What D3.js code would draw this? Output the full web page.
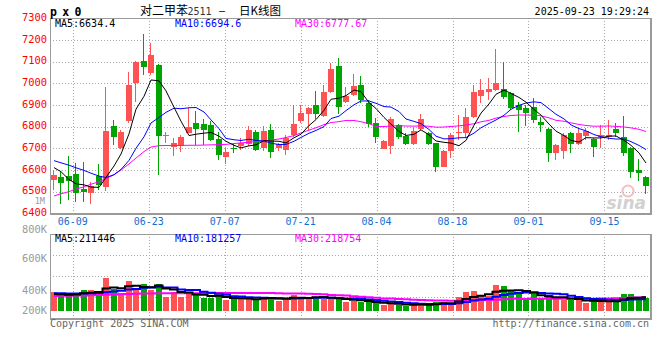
<!DOCTYPE html>
<html><head><meta charset="utf-8">
<script src="https://cdn.jsdelivr.net/npm/d3@7"></script>
<style>
body{margin:0;background:#fff}
svg{display:block}
text{font-family:"DejaVu Sans Mono",monospace}
</style>
</head><body><svg id="c" width="660" height="360"></svg>
<script>
// ---------------- data ----------------
const dates = ["06-04","06-05","06-06","06-09","06-10","06-11","06-12","06-13","06-16","06-17","06-18","06-19","06-20","06-23","06-24","06-25","06-26","06-27","06-30",
"07-01","07-02","07-03","07-04","07-07","07-08","07-09","07-10","07-11","07-14","07-15","07-16","07-17","07-18","07-21","07-22","07-23","07-24","07-25","07-28","07-29","07-30","07-31",
"08-01","08-04","08-05","08-06","08-07","08-08","08-11","08-12","08-13","08-14","08-15","08-18","08-19","08-20","08-21","08-22","08-25","08-26","08-27","08-28","08-29",
"09-01","09-02","09-03","09-04","09-05","09-08","09-09","09-10","09-11","09-12","09-15","09-16","09-17","09-18","09-19","09-22","09-23"];
const open = [6554,6566,6572,6582,6512,6492,6572,6523,6803,6700, 6828,7000,7103,7049,7085,6755,6708,6711,6772,6815,
 6812,6808,6743,6662,6703,6711,6718,6777,6700,6785, 6700,6692,6762,6828,6858,6900,6849,6961,7080,6915,
 6946,6992,6908,6815,6697,6711,6808,6757,6720,6788, 6769,6723,6615,6689,6769,6769,6846,6942,6961,6969,
 6972,6957,6900,6885,6892,6823,6788,6680,6689,6769, 6720,6757,6742,6754,6751,6788,6754,6700,6600,6569];
const high = [6600,6592,6665,6631,6639,6546,6626,6982,6831,6785, 7054,7105,7228,7185,7090,6777,6746,6762,6885,6874,
 6834,6828,6777,6700,6726,6746,6803,6785,6803,6812, 6723,6762,6900,6900,6889,6966,6992,7092,7115,6985,
 7043,7034,6923,6838,6738,6846,6810,6769,6797,6858, 6777,6726,6692,6769,6854,6885,6992,7018,7023,7158,
 7100,6960,6915,6900,6931,6846,6792,6718,6769,6777, 6792,6792,6746,6808,6831,6815,6849,6708,6649,6572];
const low = [6508,6442,6462,6454,6454,6442,6508,6505,6715,6697, 6815,6915,7038,7038,6577,6723,6665,6685,6769,6715,
 6715,6735,6646,6626,6677,6692,6711,6689,6689,6654, 6689,6669,6754,6815,6785,6834,6846,6957,6858,6911,
 6942,6908,6800,6726,6695,6674,6742,6715,6715,6785, 6715,6592,6612,6654,6738,6746,6838,6911,6923,6966,
 6926,6877,6777,6803,6815,6777,6638,6646,6649,6680, 6715,6738,6661,6703,6738,6751,6665,6562,6551,6489];
const close = [6577,6539,6549,6492,6500,6526,6531,6780,6754,6777, 6992,7100,7077,7131,6757,6760,6723,6754,6800,6788,
 6785,6738,6669,6682,6695,6726,6785,6692,6780,6685, 6720,6746,6812,6862,6885,6858,6961,7065,6889,6942,
 6988,6923,6812,6754,6735,6834,6754,6720,6780,6837, 6720,6612,6689,6762,6777,6843,6961,6969,6974,7000,
 6938,6885,6877,6865,6831,6808,6677,6715,6762,6720, 6769,6780,6708,6762,6762,6772,6680,6592,6588,6528];
// volume in thousands of lots
const volumeK = [297,246,246,262,323,323,308,513,339,272, 467,349,416,323,416,220,288,220,272,262,
 205,205,236,169,185,185,185,185,221,221, 154,169,246,221,205,221,185,185,195,144,
 154,144,133,118,92,118,92,77,108,77, 118,144,144,108,221,298,313,231,231,400,
 385,323,262,169,262,195,246,180,169,169, 169,128,154,154,154,154,262,262,185,195];
// moving-average values at the left edge (history before the window)
const ma5Lead  = [6611,6592,6556,6536];
const ma10Lead = [6643,6633,6622,6610,6598,6585,6572,6565,6578];
const ma30Lead = [6480,6490,6500,6512,6522,6534,6546,6560,6578,6600,6628,6655,6685,6706,6712,6713,6713,6713,6714,6714,6715,6716,6717,6718,6722,6725,6728,6731,6734];
const vma5LeadK  = [262,258,252,256];
const vma10LeadK = [275,273,270,268,270,273,276,290,300];
const vma30LeadK = [232,234,236,238,240,243,246,250,254,258,262,265,268,270,272,273,274,274,275,275,276,276,277,277,277,278,278,278,278];
const priceTicks = [7300,7200,7100,7000,6900,6800,6700,6600,6500,6400];
const volTickLabels = ["800K","600K","400K","200K"];
const volTickValues = [800e3,600e3,400e3,200e3];
const dateTicks = ["06-09","06-23","07-07","07-21","08-04","08-18","09-01","09-15"];
const legendMain = {ma5:"6634.4", ma10:"6694.6", ma30:"6777.67"};
const legendVol  = {ma5:"211446", ma10:"181257", ma30:"218754"};
const titleCode = "p x 0", titleName = "对二甲苯", titleContract = "2511", titleKind = "日K线图";
const stamp = "2025-09-23 19:29:24";

// ---------------- layout ----------------
const svg = d3.select("#c");
const n = dates.length;
const L = 50, R = 650, T = 18.3, B = 213.3;
const VT = 234.3, VB = 318.3, VBase = 311;
const RED = "#ff5252", GREEN = "#00a400", GRID = "#a8a8a8", BORDER = "#9a9a9a";

// candles: n slots across the plot; date grid: index spread over n-1 intervals
const x = d3.scaleBand().domain(dates).range([L, R]).paddingInner(0.25).paddingOuter(0.125);
const bx = d => Math.round(x(d));
const bw = Math.round(x.bandwidth());
const cx = d => bx(d) + bw/2;
const gx = d3.scaleLinear().domain([0, n-1]).range([L, R]);
const gridX = d => gx(dates.indexOf(d));
const yP = d3.scaleLinear().domain([6400,7300]).range([B, T]);
const yV = d3.scaleLinear().domain([0, 1e6]).range([VBase, VBase - 1e6/15400]);
const yVLab = d3.scaleLinear().domain(volTickValues).range([233.3, 261.7, 294, 314.3]);

const defs = svg.append("defs");
defs.append("clipPath").attr("id","cpM").append("rect").attr("x",L).attr("y",T).attr("width",R-L).attr("height",B-T);
defs.append("clipPath").attr("id","cpV").append("rect").attr("x",L).attr("y",VT).attr("width",R-L).attr("height",VB-VT);

// grid (main)
const g = svg.append("g").attr("shape-rendering","crispEdges");
g.selectAll(".hg").data(priceTicks.filter(v => v>6400 && v<7300)).join("line")
  .attr("x1",L).attr("x2",R).attr("y1",d=>Math.round(yP(d))+0.5).attr("y2",d=>Math.round(yP(d))+0.5)
  .attr("stroke",GRID).attr("stroke-dasharray","1,2");
g.selectAll(".vg").data(dateTicks).join("line")
  .attr("x1",d=>Math.round(gridX(d))+0.5).attr("x2",d=>Math.round(gridX(d))+0.5)
  .attr("y1",T).attr("y2",B).attr("stroke",GRID).attr("stroke-dasharray","1,2");
// grid (volume)
const vq = d3.range(1,4).map(k => VT + (VB-VT)*k/4);
g.selectAll(".hvg").data(vq).join("line")
  .attr("x1",L).attr("x2",R).attr("y1",d=>Math.round(d)+0.5).attr("y2",d=>Math.round(d)+0.5)
  .attr("stroke",GRID).attr("stroke-dasharray","1,2");
g.selectAll(".vvg").data(dateTicks).join("line")
  .attr("x1",d=>Math.round(gridX(d))+0.5).attr("x2",d=>Math.round(gridX(d))+0.5)
  .attr("y1",VT).attr("y2",VB).attr("stroke",GRID).attr("stroke-dasharray","1,2");

// sina watermark
const wm = svg.append("g").attr("opacity",0.9);
wm.append("circle").attr("cx",628).attr("cy",191).attr("r",5.5).attr("fill","none").attr("stroke","#f2b8b8").attr("stroke-width",2);
wm.append("text").attr("x",646).attr("y",209).attr("text-anchor","end")
  .style("font-family","'DejaVu Sans',sans-serif").style("font-style","italic").style("font-weight","bold")
  .style("font-size","17px").attr("fill","#cdcdcd").text("sina");

// candles
const rows = dates.map((d,i)=>({d, o:open[i], h:high[i], l:low[i], c:close[i], v:volumeK[i]*1000}));
const cg = svg.append("g").attr("clip-path","url(#cpM)").attr("shape-rendering","crispEdges");
cg.selectAll(".wick").data(rows).join("line")
  .attr("x1",r=>bx(r.d)+2.5).attr("x2",r=>bx(r.d)+2.5)
  .attr("y1",r=>yP(r.h)).attr("y2",r=>yP(r.l))
  .attr("stroke",r=>r.c>=r.o?RED:GREEN).attr("stroke-width",1);
cg.selectAll(".body").data(rows).join("rect")
  .attr("x",r=>bx(r.d)).attr("width",bw)
  .attr("y",r=>yP(Math.max(r.o,r.c))).attr("height",r=>Math.max(1,Math.abs(yP(r.o)-yP(r.c))))
  .attr("fill",r=>r.c>=r.o?RED:GREEN);

// moving averages
function movAvg(arr, k, lead){ return arr.map((_,i)=> i<k-1 ? lead[i] : d3.mean(arr.slice(i-k+1,i+1))); }
const pLine = d3.line().x((v,i)=>cx(dates[i])).y(v=>yP(v));
const mg = svg.append("g").attr("clip-path","url(#cpM)").attr("fill","none");
[[30,ma30Lead,"#ff00ff"],[10,ma10Lead,"#0000ff"],[5,ma5Lead,"#000"]].forEach(([k,lead,col])=>{
  mg.append("path").attr("d",pLine(movAvg(close,k,lead))).attr("stroke",col).attr("stroke-width",1);
});

// volume bars
const vg = svg.append("g").attr("clip-path","url(#cpV)").attr("shape-rendering","crispEdges");
vg.selectAll(".vb").data(rows).join("rect")
  .attr("x",r=>bx(r.d)).attr("width",bw)
  .attr("y",r=>yV(r.v)).attr("height",r=>yV(0)-yV(r.v))
  .attr("fill",r=>r.c>=r.o?RED:GREEN);
const vLine = d3.line().x((v,i)=>cx(dates[i])).y(v=>yV(v*1000)).curve(d3.curveStep);
const vmg = svg.append("g").attr("clip-path","url(#cpV)").attr("fill","none");
[[30,vma30LeadK,"#ff00ff"],[10,vma10LeadK,"#0000ff"],[5,vma5LeadK,"#000"]].forEach(([k,lead,col])=>{
  vmg.append("path").attr("d",vLine(movAvg(volumeK,k,lead))).attr("stroke",col).attr("stroke-width",2);
});

// borders
const bd = svg.append("g").attr("shape-rendering","crispEdges").attr("fill","none").attr("stroke",BORDER);
bd.append("rect").attr("x",L+0.5).attr("y",Math.round(T)+0.5).attr("width",R-L).attr("height",Math.round(B)-Math.round(T));
bd.append("line").attr("x1",R+1).attr("x2",R+1).attr("y1",T).attr("y2",B+1).attr("stroke-width",2);
bd.append("line").attr("x1",L).attr("x2",R+2).attr("y1",Math.round(B)+1).attr("y2",Math.round(B)+1).attr("stroke-width",2);
bd.append("rect").attr("x",L+0.5).attr("y",Math.round(VT)+0.5).attr("width",R-L).attr("height",Math.round(VB)-Math.round(VT));
bd.append("line").attr("x1",R+1).attr("x2",R+1).attr("y1",VT).attr("y2",VB+1).attr("stroke-width",2);
bd.append("line").attr("x1",L).attr("x2",R+2).attr("y1",Math.round(VB)+1).attr("y2",Math.round(VB)+1).attr("stroke-width",2);

// axis labels
const fs = "10.4px";
svg.selectAll(".pl").data(priceTicks).join("text")
  .attr("x",47).attr("y",d=>yP(d)+2.6).attr("text-anchor","end").style("font-size",fs).attr("fill","#ff0000").text(d=>d);
svg.append("text").attr("x",45).attr("y",203.6).attr("text-anchor","end").style("font-size","8.6px").attr("fill","#999").text("1M");
svg.selectAll(".dl").data(dateTicks).join("text")
  .attr("x",d=>gridX(d)).attr("y",225).attr("text-anchor","middle").style("font-size","10px").attr("fill","#1170d0").text(d=>d);
svg.selectAll(".vl").data(volTickValues).join("text")
  .attr("x",47).attr("y",d=>yVLab(d)).attr("text-anchor","end").style("font-size",fs).attr("fill","#9a9a9a")
  .text((d,i)=>volTickLabels[i]);

// legends
function legend(y, obj){
  svg.append("text").attr("x",55).attr("y",y).style("font-size","10px").attr("fill","#000").text("MA5:"+obj.ma5);
  svg.append("text").attr("x",175).attr("y",y).style("font-size","10px").attr("fill","#0000ff").text("MA10:"+obj.ma10);
  svg.append("text").attr("x",295).attr("y",y).style("font-size","10px").attr("fill","#ff00ff").text("MA30:"+obj.ma30);
}
legend(27.4, legendMain);
legend(242.4, legendVol);

// title row
svg.append("text").attr("x",50).attr("y",15.5).style("font-size","11.5px").style("font-weight","bold").attr("fill","#000")
  .style("letter-spacing","-0.8px").text(titleCode);
svg.append("text").attr("x",140).attr("y",14.5).style("font-family","'Noto Sans CJK SC',sans-serif").style("font-size","12px").attr("fill","#000").text(titleName);
svg.append("text").attr("x",187.5).attr("y",14.5).style("font-size","10px").attr("fill","#333").text(titleContract);
svg.append("text").attr("x",219).attr("y",14).style("font-size","10px").attr("fill","#000").text("–");
svg.append("text").attr("x",239).attr("y",14.5).style("font-family","'Noto Sans CJK SC',sans-serif").style("font-size","11.5px").attr("fill","#000").text(titleKind);
svg.append("text").attr("x",649).attr("y",15).attr("text-anchor","end").style("font-size","10px").attr("fill","#000").text(stamp);

// footer
svg.append("text").attr("x",50).attr("y",327).style("font-size","10px").attr("fill","#666").text("Copyright 2025 SINA.COM");
svg.append("text").attr("x",649).attr("y",327).attr("text-anchor","end").style("font-size","10px").attr("fill","#666").text("http://finance.sina.com.cn");
</script></body></html>
